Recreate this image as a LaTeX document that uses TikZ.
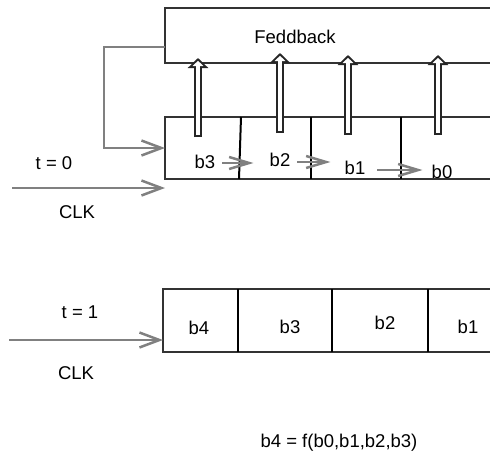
\documentclass[tikz,border=0pt]{standalone}
\usepackage{fontspec}
\setmainfont{Liberation Sans}
\usetikzlibrary{arrows.meta}

\begin{document}
\begin{tikzpicture}[x=1pt, y=-1pt,
            lbl/.style={
                font=\fontsize{18.5}{21}\selectfont,
                inner sep=0pt
            },
            regbox/.style={
                draw=black!80,
                line width=2pt,
                fill=white,
                minimum width=340pt,
                outer sep=0pt,
                anchor=north west
            },
            cellline/.style={
                draw=black,
                line width=2pt
            },
            grayarrow/.style={
                draw=black!50,
                line width=2.5pt,
                -{Straight Barb[length=20pt,width=15pt]}
            },
            shiftarrow/.style={
                draw=black!50,
                line width=2.5pt,
                -{Straight Barb[length=20pt,width=12pt]}
            },
            hollowout/.style={
                draw=black!85,
                line width=8pt,
                -{Triangle[length=10pt,width=20pt]}
            },
            hollowin/.style={
                draw=white,
                line width=4pt,
                shorten <=2pt,
                shorten >=2.8pt,
                -{Triangle[length=5.2pt,width=10.4pt]}
            }
        ]

        % Page frame (boxes run off the right edge)
        \useasboundingbox (0,0) rectangle (490,455);
        \clip (0,0) rectangle (490,455);

        % Feedback logic (solid, top)
        \node[regbox, minimum height=55pt] (fb) at (165,8) {};
        \node[lbl] (fbtxt) at (295,37) {Feddback};

        % Shift register at t = 0
        \node[regbox, minimum height=62pt] (reg) at (165,117) {};
        \draw[cellline] ([xshift=76pt]reg.north west) -- ([xshift=74pt]reg.south west);
        \draw[cellline] ([xshift=146pt]reg.north west) -- ([xshift=146pt]reg.south west);
        \draw[cellline] ([xshift=236pt]reg.north west) -- ([xshift=236pt]reg.south west);

        \node[lbl] (t0b3) at (205,162) {b3};
        \node[lbl] (t0b2) at (280,160) {b2};
        \node[lbl] (t0b1) at (355,168) {b1};
        \node[lbl] (t0b0) at (442,172) {b0};

        % taps into the feedback logic
        \foreach \x/\ya/\yb in {198/137/58, 280/133/53, 348/135/55, 438/135/55} {
            \draw[hollowout] (\x,\ya) -- (\x,\yb);
            \draw[hollowin] (\x,\ya) -- (\x,\yb);
        }

        % shifts between cells
        \draw[shiftarrow] ([xshift=7pt, yshift=-1pt]t0b3.east) -- ++(31,0);
        \draw[shiftarrow] ([xshift=7pt, yshift=-2pt]t0b2.east) -- ++(33,0);
        \draw[shiftarrow] ([xshift=12pt, yshift=-2pt]t0b1.east) -- ++(45,0);

        % feedback back into the first cell
        \draw[grayarrow] ([yshift=16pt]fb.south west) -- ++(-61,0)
            |- ([yshift=31pt]reg.south west);

        % clock at t = 0
        \coordinate (clk0) at (12,188);
        \draw[grayarrow] (clk0) -- (clk0 -| reg.west);
        \node[lbl] (t0) at (54,163) {t = 0};
        \node[lbl] (clk0txt) at (77,212) {CLK};

        % Shift register at t = 1
        \node[regbox, minimum height=63pt] (reg1) at (163,289) {};
        \draw[cellline] ([xshift=75pt]reg1.north west) -- ([xshift=75pt]reg1.south west);
        \draw[cellline] ([xshift=169pt]reg1.north west) -- ([xshift=169pt]reg1.south west);
        \draw[cellline] ([xshift=265pt]reg1.north west) -- ([xshift=265pt]reg1.south west);

        \node[lbl] (t1b4) at (199,328) {b4};
        \node[lbl] (t1b3) at (290,327) {b3};
        \node[lbl] (t1b2) at (385,323) {b2};
        \node[lbl] (t1b1) at (468,327) {b1};

        % clock at t = 1
        \coordinate (clk1) at (9,340);
        \draw[grayarrow] (clk1) -- (clk1 -| reg1.west);
        \node[lbl] (t1) at (80,312) {t = 1};
        \node[lbl] (clk1txt) at (76,373) {CLK};

        % feedback function
        \node[lbl] (func) at (339,443) {b4 = f(b0,b1,b2,b3)};
        \end{tikzpicture}
\end{document}
